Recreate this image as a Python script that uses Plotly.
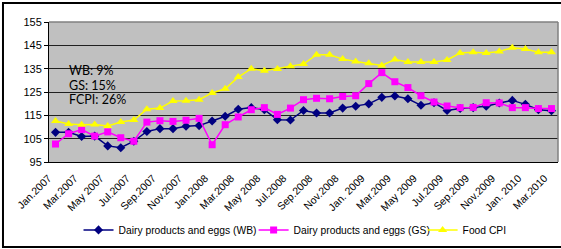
import plotly.graph_objects as go

months = ["Jan.2007", "Feb.2007", "Mar.2007", "Apr.2007", "May 2007", "Jun.2007",
          "Jul.2007", "Aug.2007", "Sep.2007", "Oct.2007", "Nov.2007", "Dec.2007",
          "Jan.2008", "Feb.2008", "Mar.2008", "Apr.2008", "May 2008", "Jun.2008",
          "Jul.2008", "Aug.2008", "Sep.2008", "Oct.2008", "Nov.2008", "Dec.2008",
          "Jan. 2009", "Feb.2009", "Mar.2009", "Apr.2009", "May 2009", "Jun.2009",
          "Jul.2009", "Aug.2009", "Sep.2009", "Oct.2009", "Nov.2009", "Dec.2009",
          "Jan. 2010", "Feb.2010", "Mar.2010"]

tick_labels = months[::2]

wb = [107.7, 107.7, 105.9, 106.1, 101.9, 101.1, 103.9, 108.1, 109.3, 109.3,
      110.3, 110.6, 112.6, 114.6, 117.6, 118.3, 117.4, 113.1, 113.0, 117.1,
      116.0, 116.0, 118.1, 118.9, 119.9, 122.7, 123.3, 122.1, 119.3, 120.4,
      117.1, 117.9, 118.3, 118.9, 120.3, 121.4, 119.7, 117.4, 117.0]

gs = [102.7, 107.1, 108.9, 106.1, 107.9, 105.4, 103.9, 112.1, 112.7, 112.4,
      112.9, 113.7, 102.4, 111.0, 114.3, 117.4, 118.3, 115.4, 118.1, 121.7,
      122.3, 122.1, 123.1, 123.4, 128.6, 133.3, 129.4, 126.9, 123.4, 120.7,
      119.0, 118.3, 118.4, 120.4, 120.3, 118.3, 118.3, 117.9, 117.9]

fcpi = [112.6, 111.3, 111.0, 111.1, 110.4, 112.1, 113.0, 117.6, 118.1, 121.1,
        121.3, 121.7, 124.6, 126.4, 131.4, 135.0, 134.1, 134.9, 136.0, 137.0,
        141.0, 141.0, 139.1, 138.1, 137.3, 136.4, 138.9, 137.9, 137.9, 137.9,
        138.7, 141.7, 142.0, 141.7, 142.4, 144.0, 143.4, 142.0, 142.0]

y_ticks = [95, 105, 115, 125, 135, 145, 155]
note_lines = ["WB: 9%", "GS: 15%", "FCPI: 26%"]

fig = go.Figure()
fig.add_trace(go.Scatter(x=months, y=wb, mode="lines+markers",
                         name="Dairy products and eggs (WB)", legend="legend",
                         line=dict(color="#000080", width=1.5),
                         marker=dict(symbol="diamond", size=7, color="#000080")))
fig.add_trace(go.Scatter(x=months, y=gs, mode="lines+markers",
                         name="Dairy products and eggs (GS)", legend="legend2",
                         line=dict(color="#FF00FF", width=1.5),
                         marker=dict(symbol="square", size=7, color="#FF00FF")))
fig.add_trace(go.Scatter(x=months, y=fcpi, mode="lines+markers",
                         name="Food CPI", legend="legend3",
                         line=dict(color="#FFFF00", width=1.5),
                         marker=dict(symbol="triangle-up", size=8, color="#FFFF00")))

leg_common = dict(orientation="h", xanchor="left", y=-0.485, yanchor="middle",
                  font=dict(size=10.3), itemwidth=30, bgcolor="rgba(0,0,0,0)")

fig.update_layout(
    width=561, height=249,
    margin=dict(l=49, r=3, t=22, b=87),
    paper_bgcolor="white",
    plot_bgcolor="#C0C0C0",
    font=dict(family="Liberation Sans, Arial, sans-serif", size=11, color="black"),
    showlegend=True,
    legend=dict(x=0.058, **leg_common),
    legend2=dict(x=0.402, **leg_common),
    legend3=dict(x=0.734, **leg_common),
    xaxis=dict(type="category", range=[-0.5, len(months) - 0.5],
               categoryorder="array", categoryarray=months,
               tickvals=tick_labels, ticktext=tick_labels, tickangle=-45,
               ticklabelshift=-7, ticklabelstandoff=5,
               ticks="", showgrid=False, showline=True, linecolor="black",
               linewidth=1, tickfont=dict(size=10.5), fixedrange=True),
    xaxis2=dict(overlaying="x", anchor="y", side="bottom",
                range=[-0.5, len(months) - 0.5], tick0=-0.5, dtick=1,
                ticks="outside", ticklen=4, tickcolor="black",
                showticklabels=False, showgrid=False, showline=False),
    yaxis=dict(range=[95, 155], tickvals=y_ticks, ticks="outside", ticklen=4,
               tickcolor="black", showgrid=True, gridcolor="#202020", gridwidth=1,
               showline=True, linecolor="black", linewidth=1, zeroline=False,
               tickfont=dict(size=11)),
    annotations=[dict(text=t, xref="paper", yref="paper", x=0.036, y=yy,
                      xanchor="left", yanchor="middle", align="left", showarrow=False,
                      font=dict(family="Lato, sans-serif", size=12.5, color="black"))
                 for t, yy in zip(note_lines, [0.657, 0.55, 0.443])],
    shapes=[
        dict(type="line", xref="paper", yref="paper", x0=0, x1=1, y0=1, y1=1,
             line=dict(color="#808080", width=1.5), layer="above"),
        dict(type="line", xref="paper", yref="paper", x0=1, x1=1, y0=0, y1=1,
             line=dict(color="#808080", width=1.5), layer="above"),
        dict(type="rect", xref="paper", yref="paper", x0=-0.0904, x1=1.02,
             y0=-0.607, y1=1.136, line=dict(color="black", width=2),
             fillcolor="rgba(0,0,0,0)", layer="above"),
    ],
)

fig.write_html("out.html", config={"displayModeBar": False},
               post_script="document.body.style.margin='0px';")
